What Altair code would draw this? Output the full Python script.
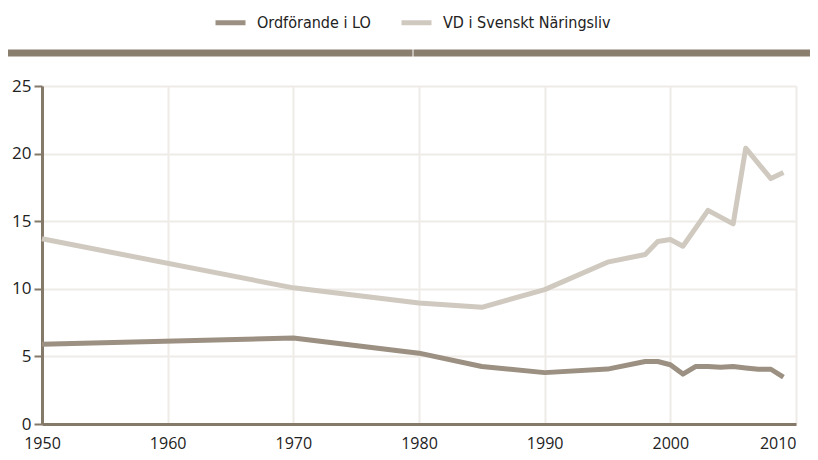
import altair as alt
import pandas as pd

# --- data ---
lo_years = [1950, 1970, 1980, 1985, 1990, 1995, 1998, 1999, 2000, 2001, 2002, 2003, 2004, 2005, 2006, 2007, 2008, 2009]
lo_values = [5.9, 6.36, 5.24, 4.25, 3.8, 4.06, 4.62, 4.62, 4.38, 3.69, 4.25, 4.25, 4.2, 4.25, 4.15, 4.05, 4.05, 3.46]

vd_years = [1950, 1970, 1980, 1985, 1990, 1995, 1998, 1999, 2000, 2001, 2003, 2005, 2006, 2008, 2009]
vd_values = [13.7, 10.07, 8.95, 8.63, 9.94, 11.97, 12.54, 13.5, 13.65, 13.15, 15.8, 14.8, 20.4, 18.15, 18.6]

series_names = ["Ordförande i LO", "VD i Svenskt Näringsliv"]
series_colors = ["#9b9081", "#cfc9bf"]

x_ticks = [1950, 1960, 1970, 1980, 1990, 2000, 2010]
y_ticks = [0, 5, 10, 15, 20, 25]

rows = [{"year": y, "value": v, "series": series_names[0]} for y, v in zip(lo_years, lo_values)]
rows += [{"year": y, "value": v, "series": series_names[1]} for y, v in zip(vd_years, vd_values)]
df = pd.DataFrame(rows)

W, H = 754, 338
AXIS = "#85796a"
FONT = "Open Sans"

lines = alt.Chart(df).mark_line(strokeWidth=5, strokeJoin="round", strokeCap="butt").encode(
    x=alt.X("year:Q", scale=alt.Scale(domain=[1950, 2010], nice=False, zero=False),
            axis=alt.Axis(values=x_ticks, format="d", title=None, ticks=False,
                          labelPadding=11, labelFontSize=16, labelFont=FONT, labelColor="#222222",
                          domainColor=AXIS, domainWidth=3, grid=True, gridColor="#efece7", gridWidth=2,
                          labelAlign=alt.ExprRef("datum.value == 2010 ? 'right' : 'center'"))),
    y=alt.Y("value:Q", scale=alt.Scale(domain=[0, 25], nice=False),
            axis=alt.Axis(values=y_ticks, title=None, tickSize=8, tickColor=AXIS, tickWidth=2,
                          labelPadding=3, labelFontSize=17, labelFont=FONT, labelColor="#222222",
                          domainColor=AXIS, domainWidth=3, grid=True, gridColor="#efece7", gridWidth=2)),
    color=alt.Color("series:N", scale=alt.Scale(domain=series_names, range=series_colors),
                    legend=alt.Legend(title=None, orient="none", direction="horizontal",
                                      legendX=171, legendY=-81, symbolType="stroke",
                                      symbolStrokeWidth=5, symbolSize=900, labelFontSize=16,
                                      labelFont="DejaVu Sans Condensed, Roboto, sans-serif",
                                      labelColor="#222222", labelLimit=400,
                                      labelOffset=9, columnPadding=20)),
)

bar_left = alt.Chart(pd.DataFrame({"a": [0]})).mark_rule(color="#8a7e6e", strokeWidth=7).encode(
    x=alt.value(-34), x2=alt.value(370.5), y=alt.value(-33))
bar_right = alt.Chart(pd.DataFrame({"a": [0]})).mark_rule(color="#8a7e6e", strokeWidth=7).encode(
    x=alt.value(371.5), x2=alt.value(768), y=alt.value(-33))

chart = alt.layer(bar_left, bar_right, lines).properties(
    width=W, height=H,
    padding={"left": 34, "top": 78, "right": 14, "bottom": 28},
    autosize=alt.AutoSizeParams(type="none"),
).configure_view(stroke=AXIS, strokeWidth=2).configure(background="white")

chart.save("out.html", embed_options={"renderer": "svg", "actions": False})
